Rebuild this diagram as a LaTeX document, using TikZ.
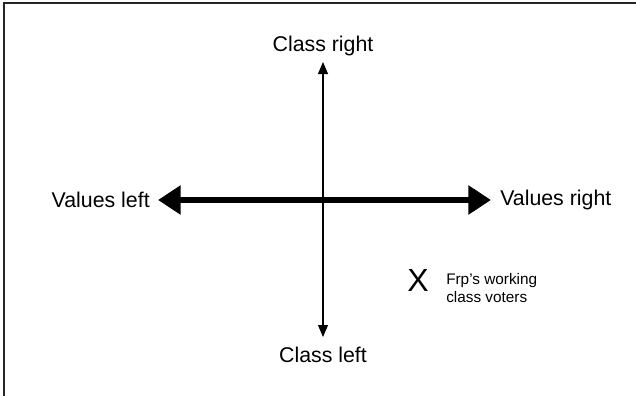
\documentclass[tikz,border=0pt]{standalone}
\usepackage{fontspec}
\setmainfont{Liberation Sans}
\usetikzlibrary{arrows.meta}
\begin{document}
\begin{tikzpicture}[x=0.75pt,y=-0.75pt,
  lbl/.style={inner sep=0pt, font=\fontsize{16pt}{18pt}\selectfont},
  small/.style={inner sep=0pt, align=left, font=\fontsize{11.5pt}{12.8pt}\selectfont},
  thin/.style={line width=0.8pt, {Triangle[width=7.5pt,length=9pt]}-{Triangle[width=7.5pt,length=9pt]}},
  thick/.style={line width=4.5pt, {Triangle[width=21pt,length=17pt]}-{Triangle[width=21pt,length=17pt]}}]
\useasboundingbox (0,0) rectangle (636,396);
\draw[line width=1.5pt, draw=black!85] (4,396) -- (4,3) -- (636,3);
\node[lbl] (cr) at (323,46) {Class right};
\node[lbl] (cl) at (323,355) {Class left};
\node[lbl, anchor=east] (vl) at (150,200) {Values left};
\node[lbl, anchor=west] (vr) at (500,200) {Values right};
\coordinate (top) at (323,62);
\coordinate (bot) at (323,337);
\coordinate (lft) at (158,200);
\coordinate (rgt) at (491,200);
\draw[thin] (bot) -- (top);
\draw[thick] (lft) -- (rgt);
\node[inner sep=0pt, font=\fontsize{24pt}{26pt}\selectfont] (x) at (418,280) {X};
\node[small, anchor=west] (frp) at (446,288) {Frp’s working\\class voters};
\end{tikzpicture}
\end{document}
